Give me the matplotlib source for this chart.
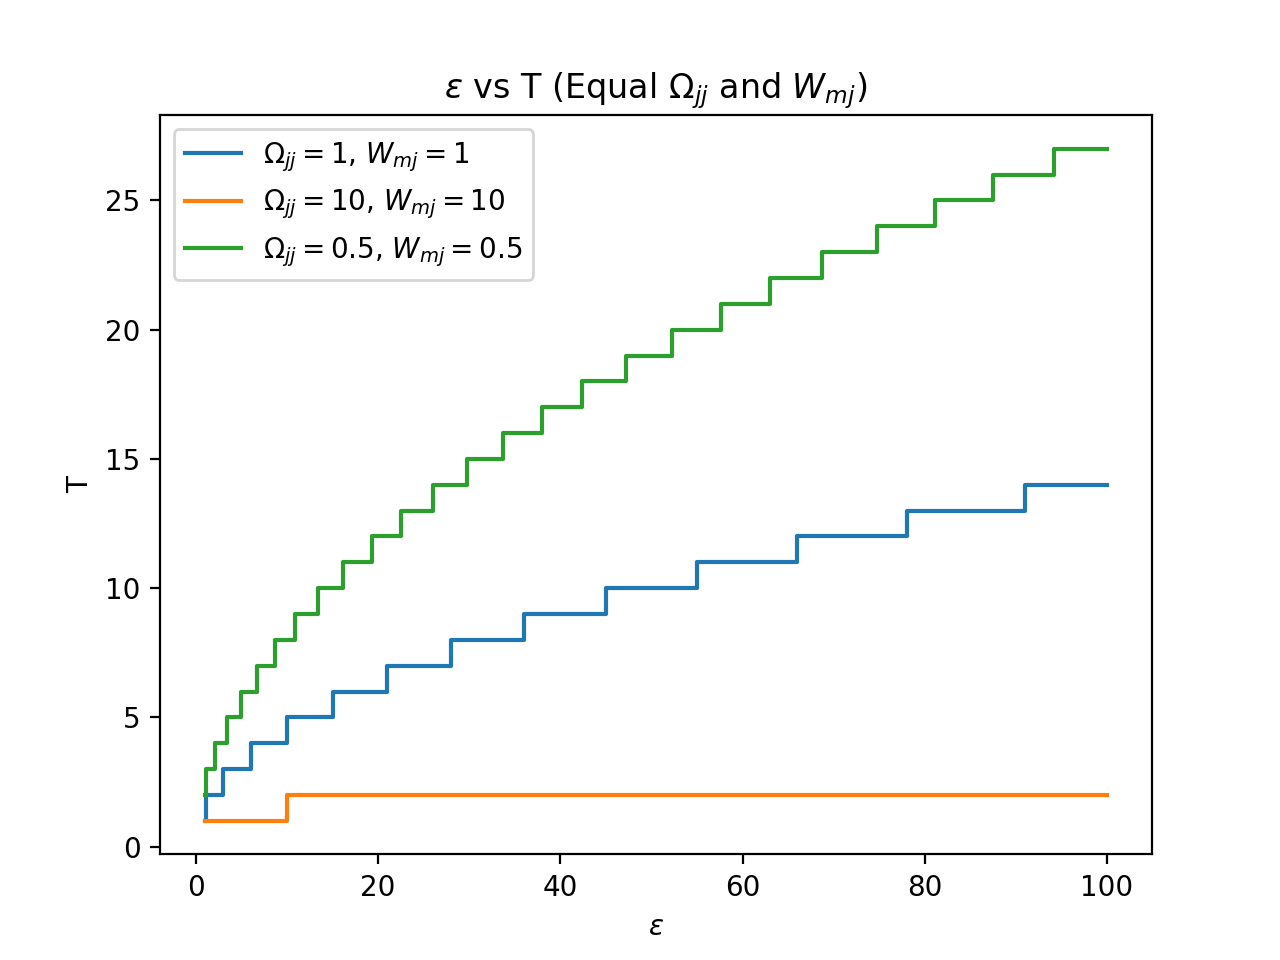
import matplotlib
matplotlib.use("Agg")
import matplotlib.pyplot as plt

# Step points (epsilon where T jumps, and T value after the jump)
eps_blue = [1.0, 1.05, 3.0, 6.0, 10.0, 15.0, 21.0, 28.0, 36.0, 45.0, 55.0, 66.0, 78.0, 91.0, 100.0]
T_blue = [1, 2, 3, 4, 5, 6, 7, 8, 9, 10, 11, 12, 13, 14, 14]

eps_orange = [1.0, 10.0, 100.0]
T_orange = [1, 2, 2]

eps_green = [1.0, 1.1, 2.1, 3.4, 4.9, 6.7, 8.7, 10.9, 13.4, 16.1, 19.3, 22.5, 26.0, 29.8,
             33.7, 38.0, 42.4, 47.2, 52.3, 57.6, 63.0, 68.7, 74.8, 81.1, 87.5, 94.2, 100.0]
T_green = [2, 3, 4, 5, 6, 7, 8, 9, 10, 11, 12, 13, 14, 15, 16, 17, 18, 19, 20, 21, 22, 23,
           24, 25, 26, 27, 27]

labels = [r'$\Omega_{jj}=1$, $W_{mj}=1$',
          r'$\Omega_{jj}=10$, $W_{mj}=10$',
          r'$\Omega_{jj}=0.5$, $W_{mj}=0.5$']

fig, ax = plt.subplots(figsize=(6.4, 4.8), dpi=200)
ax.plot(eps_blue, T_blue, drawstyle='steps-post', label=labels[0])
ax.plot(eps_orange, T_orange, drawstyle='steps-post', label=labels[1])
ax.plot(eps_green, T_green, drawstyle='steps-post', label=labels[2])
ax.set_title(r'$\epsilon$ vs T (Equal $\Omega_{jj}$ and $W_{mj}$)')
ax.set_xlabel(r'$\epsilon$')
ax.set_ylabel('T')
ax.legend(loc='upper left')
fig.savefig('out.png', dpi=200)
